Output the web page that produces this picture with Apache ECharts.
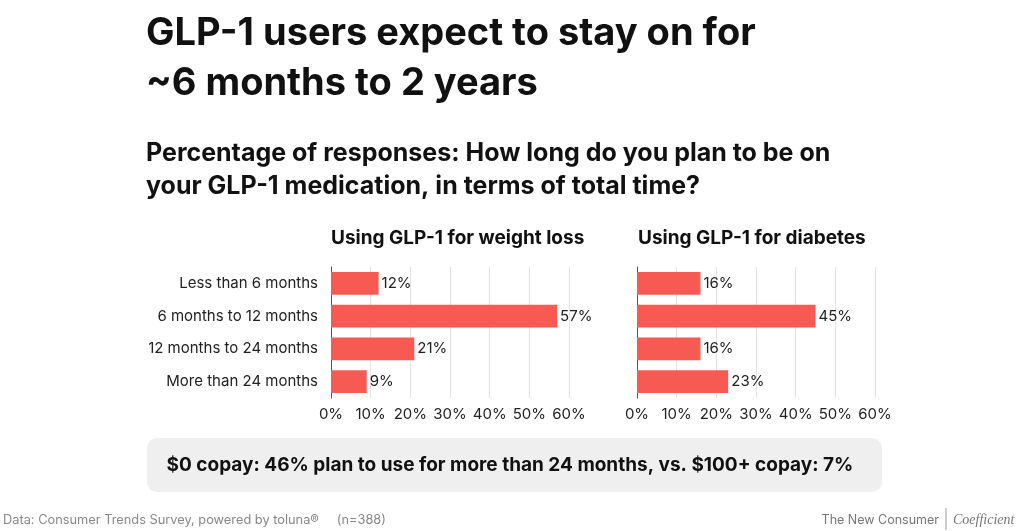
<!DOCTYPE html>
<html><head><meta charset="utf-8">
<script src="https://cdn.jsdelivr.net/npm/echarts@6/dist/echarts.min.js"></script>
<style>html,body{margin:0;padding:0;background:#fff}#c{width:1024px;height:531px}</style>
</head><body><div id="c"></div>
<script>
const categories = ['Less than 6 months', '6 months to 12 months', '12 months to 24 months', 'More than 24 months'];
const weightLoss = [12, 57, 21, 9];
const diabetes = [16, 45, 16, 23];
const xTicks = [0, 10, 20, 30, 40, 50, 60];
const panelTitles = ['Using GLP-1 for weight loss', 'Using GLP-1 for diabetes'];

const FONT = 'Inter, Roboto, sans-serif';
const BAR = '#f65a52';
const LBL = 15;
const chart = echarts.init(document.getElementById('c'), null, {renderer: 'canvas'});

function xAxis(i) {
  return {
    gridIndex: i, type: 'value', min: xTicks[0], max: xTicks[xTicks.length - 1], interval: 10,
    axisLine: {show: false}, axisTick: {show: false},
    axisLabel: {formatter: v => v + '%', color: '#222', fontFamily: FONT, fontSize: LBL, margin: 9},
    splitLine: {lineStyle: {color: '#e2e2e2', width: 1}}
  };
}
function yAxis(i, showLabels) {
  return {
    gridIndex: i, type: 'category', data: categories, inverse: true,
    axisLine: {show: true, lineStyle: {color: '#555', width: 1}}, axisTick: {show: false},
    axisLabel: {show: showLabels, color: '#222', fontFamily: FONT, fontSize: LBL, margin: 13}
  };
}
function series(i, data) {
  return {
    type: 'bar', xAxisIndex: i, yAxisIndex: i, data: data, barCategoryGap: '30%',
    itemStyle: {color: BAR},
    label: {show: true, position: 'right', distance: 3, formatter: p => p.value + '%', color: '#222', fontFamily: FONT, fontSize: LBL},
    silent: true
  };
}

chart.setOption({
  animation: false,
  grid: [
    {left: 331, width: 238, top: 267, height: 131},
    {left: 637, width: 238, top: 267, height: 131}
  ],
  xAxis: [xAxis(0), xAxis(1)],
  yAxis: [yAxis(0, true), yAxis(1, false)],
  series: [series(0, weightLoss), series(1, diabetes)],
  graphic: [
    {type: 'text', left: 146, top: 9, style: {text: 'GLP-1 users expect to stay on for\n~6 months to 2 years', font: 'bold 38px ' + FONT, fill: '#111', lineHeight: 50}},
    {type: 'text', left: 146, top: 137, style: {text: 'Percentage of responses: How long do you plan to be on\nyour GLP-1 medication, in terms of total time?', font: 'bold 25px ' + FONT, fill: '#111', lineHeight: 33}},
    {type: 'text', left: 331, top: 229, style: {text: panelTitles[0], font: 'bold 19px ' + FONT, fill: '#111'}},
    {type: 'text', left: 638, top: 229, style: {text: panelTitles[1], font: 'bold 19px ' + FONT, fill: '#111'}},
    {type: 'rect', shape: {x: 147, y: 438, width: 735, height: 54, r: 10}, style: {fill: '#efefef'}},
    {type: 'text', x: 510, y: 465, style: {text: '$0 copay: 46% plan to use for more than 24 months, vs. $100+ copay: 7%', font: 'bold 19px ' + FONT, fill: '#111', textAlign: 'center', textVerticalAlign: 'middle'}},
    {type: 'text', x: 3, y: 520, style: {text: 'Data: Consumer Trends Survey, powered by toluna\u00AE     (n=388)', font: '12.8px ' + FONT, fill: '#888', textVerticalAlign: 'middle'}},
    {type: 'text', x: 939, y: 520, style: {text: 'The New Consumer', font: '12.5px ' + FONT, fill: '#777', textAlign: 'right', textVerticalAlign: 'middle'}},
    {type: 'line', shape: {x1: 946, y1: 508, x2: 946, y2: 530}, style: {stroke: '#999', lineWidth: 1}},
    {type: 'text', x: 953, y: 520, style: {text: 'Coefficient', font: 'italic 14px "Liberation Serif", serif', fill: '#777', textVerticalAlign: 'middle'}}
  ]
});
</script></body></html>
